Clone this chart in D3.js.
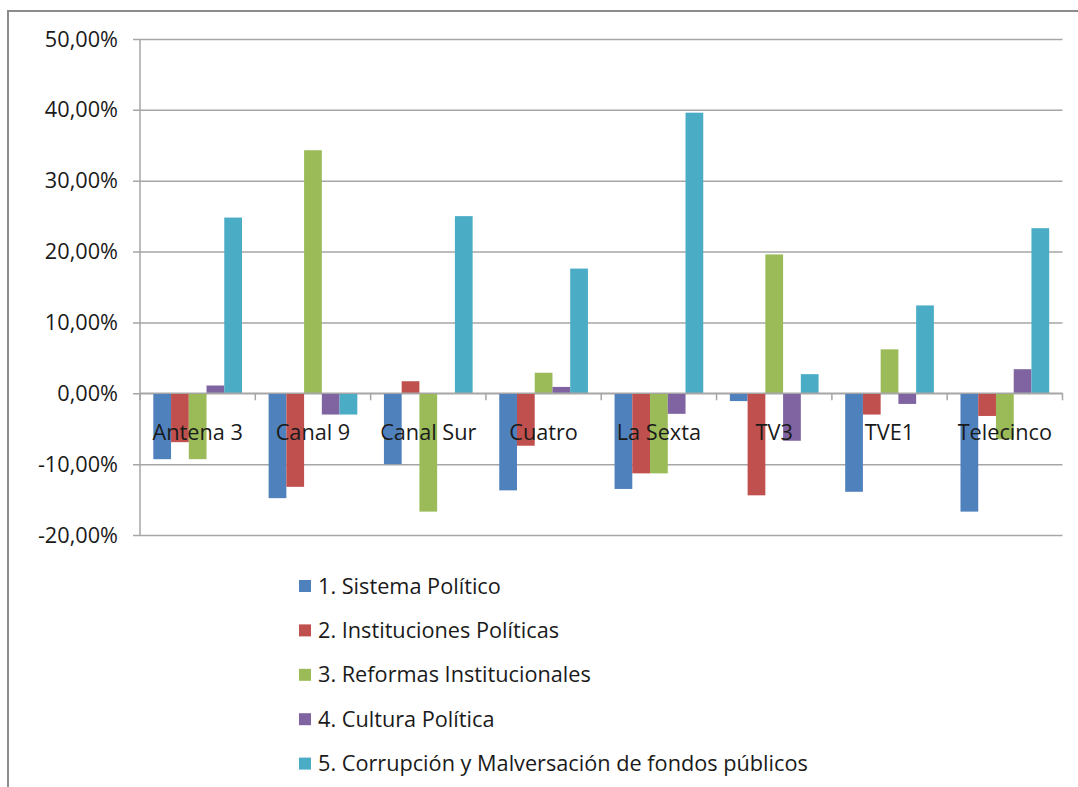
<!DOCTYPE html>
<html>
<head>
<meta charset="utf-8">
<script src="https://cdn.jsdelivr.net/npm/d3@7"></script>
<style>
  body { margin: 0; background: #fff; }
  text { font-family: "Open Sans", "Liberation Sans", sans-serif; fill: #1a1a1a; }
</style>
</head>
<body>
<div id="chart"></div>
<script>
'use strict';
var canales = ['Antena 3', 'Canal 9', 'Canal Sur', 'Cuatro', 'La Sexta', 'TV3', 'TVE1', 'Telecinco'];
var series = [
    '1. Sistema Político',
    '2. Instituciones Políticas',
    '3. Reformas Institucionales',
    '4. Cultura Política',
    '5. Corrupción y Malversación de fondos públicos'
];
var sistema      = [-9.3, -14.8, -10.0, -13.7, -13.5, -1.1, -13.9, -16.7];
var instituciones = [-6.9, -13.2, 1.7, -7.4, -11.3, -14.4, -3.0, -3.2];
var reformas     = [-9.3, 34.3, -16.7, 2.9, -11.3, 19.6, 6.2, -6.5];
var cultura      = [1.1, -3.0, 0.0, 0.9, -2.9, -6.7, -1.5, 3.4];
var corrupcion   = [24.8, -3.0, 25.0, 17.6, 39.6, 2.7, 12.4, 23.3];
var yTicks = [-20, -10, 0, 10, 20, 30, 40, 50];
var colores = ['#4F81BD', '#C0504D', '#9BBB59', '#8064A2', '#4BACC6'];

var valores = [sistema, instituciones, reformas, cultura, corrupcion];

var width = 1078,
    height = 787,
    fontSize = '21.7px';

var svg = d3.select('#chart').append('svg')
    .attr('width', width)
    .attr('height', height);

// outer chart border (runs off the right and bottom edge)
svg.append('rect')
    .attr('x', 8).attr('y', 11)
    .attr('width', 1100).attr('height', 800)
    .attr('fill', 'none')
    .attr('stroke', '#8c8c8c')
    .attr('stroke-width', 2);

var x0 = d3.scaleBand().domain(canales).range([140, 1062.5]);
var gap = x0.bandwidth() * 1.5 / 6.5 / 2;
var x1 = d3.scaleBand().domain(d3.range(series.length)).range([gap, x0.bandwidth() - gap]);
var y = d3.scaleLinear().domain([-20, 50]).range([535, 39]);

// gridlines + tick marks
svg.append('g')
    .attr('transform', 'translate(140,0)')
    .call(d3.axisLeft(y).tickValues(yTicks).tickSize(-(1062.5 - 140)).tickFormat(''))
    .call(function (g) {
        g.select('.domain').remove();
        g.selectAll('line').attr('stroke', '#a6a6a6').attr('stroke-width', 1.5).attr('x1', -7);
    });

// y labels
svg.append('g').selectAll('text').data(yTicks).enter().append('text')
    .attr('x', 118)
    .attr('y', function (d) { return y(d); })
    .attr('dy', '0.35em')
    .attr('text-anchor', 'end')
    .style('font-size', fontSize)
    .text(function (d) { return d.toFixed(2).replace('.', ',') + '%'; });

// y axis line
svg.append('line')
    .attr('x1', 140).attr('x2', 140)
    .attr('y1', y(50)).attr('y2', y(-20))
    .attr('stroke', '#a6a6a6').attr('stroke-width', 1.5);

// bars
var grupos = svg.append('g').selectAll('g.canal').data(canales).enter().append('g')
    .attr('class', 'canal')
    .attr('transform', function (d) { return 'translate(' + x0(d) + ',0)'; });

grupos.selectAll('rect').data(function (d, i) {
    return valores.map(function (s, k) { return { k: k, v: s[i] }; });
}).enter().append('rect')
    .attr('x', function (d) { return x1(d.k); })
    .attr('width', x1.bandwidth())
    .attr('y', function (d) { return y(Math.max(0, d.v)); })
    .attr('height', function (d) { return Math.abs(y(d.v) - y(0)); })
    .attr('fill', function (d) { return colores[d.k]; });

// zero line with category ticks
svg.append('line')
    .attr('x1', 140).attr('x2', 1062.5)
    .attr('y1', y(0)).attr('y2', y(0))
    .attr('stroke', '#a6a6a6').attr('stroke-width', 1.5);
svg.append('g').selectAll('line').data(d3.range(canales.length + 1)).enter().append('line')
    .attr('x1', function (i) { return 140 + i * x0.step(); })
    .attr('x2', function (i) { return 140 + i * x0.step(); })
    .attr('y1', y(0)).attr('y2', y(0) + 7)
    .attr('stroke', '#a6a6a6').attr('stroke-width', 1.5);

// category labels
svg.append('g').selectAll('text').data(canales).enter().append('text')
    .attr('x', function (d) { return x0(d) + x0.bandwidth() / 2; })
    .attr('y', y(0) + 47)
    .attr('text-anchor', 'middle')
    .style('font-size', fontSize)
    .text(function (d) { return d; });

// legend
var leyenda = svg.append('g').selectAll('g').data(series).enter().append('g')
    .attr('transform', function (d, i) { return 'translate(299,' + (586 + i * 44.4) + ')'; });
leyenda.append('rect')
    .attr('x', 0).attr('y', -6).attr('width', 12).attr('height', 12)
    .attr('fill', function (d, i) { return colores[i]; });
leyenda.append('text')
    .attr('x', 19).attr('dy', '0.35em')
    .style('font-size', fontSize)
    .text(function (d) { return d; });
</script>
</body>
</html>
